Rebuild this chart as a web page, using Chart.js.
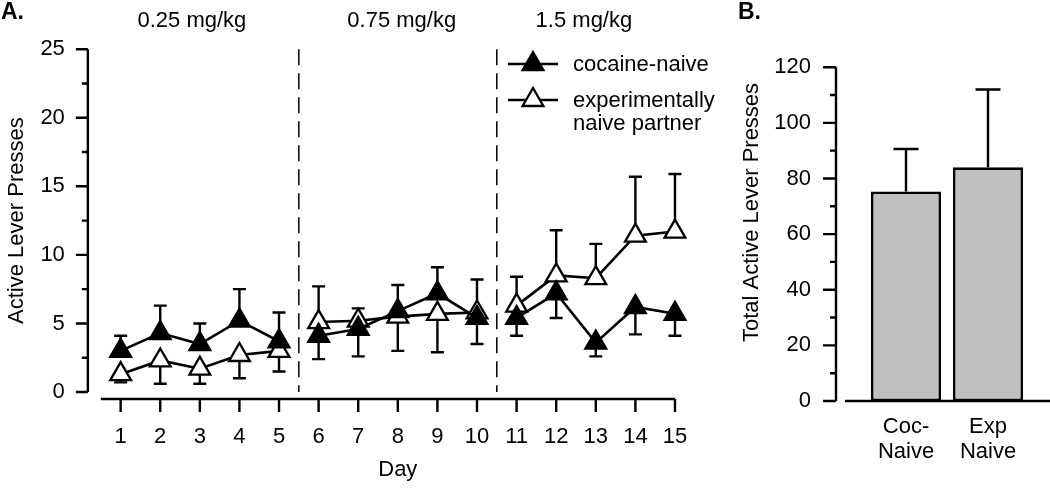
<!DOCTYPE html>
<html>
<head>
<meta charset="utf-8">
<script src="https://cdn.jsdelivr.net/npm/chart.js@4.4.1/dist/chart.umd.min.js"></script>
<style>
  html, body { margin: 0; padding: 0; background: #fff; }
  #wrap { position: relative; width: 1050px; height: 488px; }
  #boxA { position: absolute; left: 0; top: 0; }
  #boxB { position: absolute; left: 720px; top: 0; }
</style>
</head>
<body>
<div id="wrap">
  <div id="boxA"><canvas id="chartA" width="720" height="488"></canvas></div>
  <div id="boxB"><canvas id="chartB" width="330" height="488"></canvas></div>
</div>
<script>
// Panel A data
const days = [1, 2, 3, 4, 5, 6, 7, 8, 9, 10, 11, 12, 13, 14, 15];
const cocaineNaive = [3.0, 4.3, 3.5, 5.2, 3.7, 4.1, 4.6, 5.9, 7.2, 5.4, 5.4, 7.2, 3.6, 6.2, 5.7];
const cocaineNaiveSE = [1.1, 2.0, 1.5, 2.3, 2.1, 1.7, 2.0, 1.9, 1.9, 1.9, 1.3, 1.8, 1.0, 2.0, 1.6];
const partner = [1.3, 2.3, 1.7, 2.7, 3.0, 5.1, 5.2, 5.5, 5.7, 5.8, 6.3, 8.5, 8.3, 11.4, 11.7];
const partnerSE = [0.6, 1.7, 1.1, 1.7, 1.5, 2.6, 0.9, 2.5, 2.8, 2.4, 2.1, 3.3, 2.5, 4.3, 4.2];
// +1 = error bar drawn upward for cocaine-naive (partner goes the other way)
const errorSide = [1, 1, 1, 1, 1, -1, -1, 1, 1, -1, -1, -1, -1, -1, -1];
const doseBreaks = [5.5, 10.5];
const doseLabels = ['0.25 mg/kg', '0.75 mg/kg', '1.5 mg/kg'];
const doseLabelAt = [2.8, 8.1, 12.7];

// Panel B data
const groups = [['Coc-', 'Naive'], ['Exp', 'Naive']];
const totals = [75.3, 84.0];
const totalsSE = [15.3, 28.0];

const FONT = 'Liberation Sans, Arial, sans-serif';
Chart.defaults.font.family = FONT;
Chart.defaults.font.size = 22;
Chart.defaults.color = '#000';

function tri(ctx, x, y, r, fill) {
  ctx.beginPath();
  for (let i = 0; i < 3; i++) {
    const a = i * 2 * Math.PI / 3;
    const px = x + Math.sin(a) * r, py = y - Math.cos(a) * r;
    if (i === 0) ctx.moveTo(px, py); else ctx.lineTo(px, py);
  }
  ctx.closePath();
  ctx.fillStyle = fill;
  ctx.fill();
  ctx.stroke();
}

function errorBars(ctx, x, y, means, se, side) {
  means.forEach(function (m, i) {
    const px = x.getPixelForValue(days[i]);
    const p0 = y.getPixelForValue(m);
    const p1 = y.getPixelForValue(m + side[i] * se[i]);
    ctx.beginPath();
    ctx.moveTo(px, p0); ctx.lineTo(px, p1);
    ctx.moveTo(px - 6.5, p1); ctx.lineTo(px + 6.5, p1);
    ctx.stroke();
  });
}

const panelA = {
  id: 'panelA',
  beforeDatasetsDraw(chart) {
    const { ctx, scales: { x, y } } = chart;
    ctx.save();
    ctx.strokeStyle = '#000';
    // dose separators
    ctx.lineWidth = 1.5;
    ctx.setLineDash([16, 8]);
    doseBreaks.forEach(function (b) {
      const px = x.getPixelForValue(b);
      ctx.beginPath();
      ctx.moveTo(px, y.getPixelForValue(25));
      ctx.lineTo(px, y.getPixelForValue(0));
      ctx.stroke();
    });
    ctx.setLineDash([]);
    // error bars sit behind the triangles
    ctx.lineWidth = 2.4;
    errorBars(ctx, x, y, cocaineNaive, cocaineNaiveSE, errorSide);
    errorBars(ctx, x, y, partner, partnerSE, errorSide.map(s => -s));
    ctx.restore();
  },
  afterDraw(chart) {
    const { ctx, scales: { x, y } } = chart;
    ctx.save();
    ctx.strokeStyle = '#000';
    ctx.lineWidth = 2.4;
    // y axis, detached from x axis
    const ax = chart.chartArea.left - 13;
    ctx.beginPath();
    ctx.moveTo(ax, y.getPixelForValue(0));
    ctx.lineTo(ax, y.getPixelForValue(25));
    for (let v = 0; v <= 25; v += 2.5) {
      const py = y.getPixelForValue(v);
      ctx.moveTo(ax - (v % 5 === 0 ? 12 : 6), py);
      ctx.lineTo(ax, py);
    }
    // x axis
    const ay = chart.chartArea.bottom + 7;
    ctx.moveTo(x.getPixelForValue(0.5), ay);
    ctx.lineTo(x.getPixelForValue(15), ay);
    days.forEach(function (d) {
      const px = x.getPixelForValue(d);
      ctx.moveTo(px, ay);
      ctx.lineTo(px, ay + 13);
    });
    ctx.stroke();

    // dose labels
    ctx.fillStyle = '#000';
    ctx.font = '22px ' + FONT;
    ctx.textAlign = 'center';
    ctx.textBaseline = 'middle';
    doseLabels.forEach(function (t, i) {
      ctx.fillText(t, x.getPixelForValue(doseLabelAt[i]), 21);
    });

    // panel letter
    ctx.font = 'bold 23px ' + FONT;
    ctx.textAlign = 'left';
    ctx.fillText('A.', 1, 13);

    // legend
    ctx.font = '22px ' + FONT;
    const rows = [
      { y: 64, fill: '#000', text: ['cocaine-naive'] },
      { y: 100, fill: '#fff', text: ['experimentally', 'naive partner'] }
    ];
    rows.forEach(function (r) {
      ctx.lineWidth = 2.6;
      ctx.beginPath();
      ctx.moveTo(508, r.y); ctx.lineTo(558, r.y);
      ctx.stroke();
      ctx.lineWidth = 2.3;
      tri(ctx, 533, r.y, 12, r.fill);
      ctx.fillStyle = '#000';
      r.text.forEach(function (t, k) {
        ctx.fillText(t, 573, r.y + 1 + k * 23);
      });
    });
    ctx.restore();
  }
};

const hiddenBreak = ctx => (ctx.p0.parsed.x === 5 || ctx.p0.parsed.x === 10) ? 'rgba(0,0,0,0)' : '#000';

new Chart(document.getElementById('chartA'), {
  type: 'line',
  data: {
    labels: days,
    datasets: [
      {
        label: 'cocaine-naive',
        data: days.map((d, i) => ({ x: d, y: cocaineNaive[i] })),
        borderColor: '#000',
        borderWidth: 2.6,
        pointStyle: 'triangle',
        pointRadius: 12,
        pointBorderWidth: 2.3,
        pointBackgroundColor: '#000',
        pointBorderColor: '#000',
        segment: { borderColor: hiddenBreak }
      },
      {
        label: 'experimentally naive partner',
        data: days.map((d, i) => ({ x: d, y: partner[i] })),
        borderColor: '#000',
        borderWidth: 2.6,
        pointStyle: 'triangle',
        pointRadius: 12,
        pointBorderWidth: 2.3,
        pointBackgroundColor: '#fff',
        pointBorderColor: '#000',
        segment: { borderColor: hiddenBreak }
      }
    ]
  },
  options: {
    responsive: false,
    animation: false,
    layout: { padding: { left: 0, right: 23.6, top: 34, bottom: 0 } },
    plugins: { legend: { display: false }, tooltip: { enabled: false } },
    scales: {
      x: {
        type: 'linear',
        min: 0.5,
        max: 15.5,
        afterBuildTicks: s => { s.ticks = days.map(d => ({ value: d })); },
        afterFit: s => { s.height = 96; },
        grid: { display: false, drawTicks: false },
        border: { display: false },
        ticks: { padding: 32, maxRotation: 0, autoSkip: false },
        title: { display: true, text: 'Day', padding: { top: 0, bottom: 5 } }
      },
      y: {
        min: 0,
        max: 25,
        afterFit: s => { s.width = 100.85; },
        grid: { display: false, drawTicks: false },
        border: { display: false },
        ticks: { stepSize: 5, padding: 36 },
        title: { display: true, text: 'Active Lever Presses', padding: { top: 3.5, bottom: 0 } }
      }
    }
  },
  plugins: [panelA]
});

const panelB = {
  id: 'panelB',
  beforeDatasetsDraw(chart) {
    const { ctx, scales: { x, y } } = chart;
    ctx.save();
    ctx.strokeStyle = '#000';
    ctx.lineWidth = 2.4;
    totals.forEach(function (v, i) {
      const px = x.getPixelForValue(i);
      const p0 = y.getPixelForValue(v);
      const p1 = y.getPixelForValue(v + totalsSE[i]);
      ctx.beginPath();
      ctx.moveTo(px, p0); ctx.lineTo(px, p1);
      ctx.moveTo(px - 12.5, p1); ctx.lineTo(px + 12.5, p1);
      ctx.stroke();
    });
    ctx.restore();
  },
  afterDraw(chart) {
    const { ctx, scales: { y } } = chart;
    ctx.save();
    ctx.strokeStyle = '#000';
    ctx.lineWidth = 2.4;
    const ax = chart.chartArea.left - 29;
    const ay = y.getPixelForValue(0);
    ctx.beginPath();
    ctx.moveTo(ax, ay);
    ctx.lineTo(ax, y.getPixelForValue(120));
    for (let v = 0; v <= 120; v += 10) {
      const py = y.getPixelForValue(v);
      ctx.moveTo(ax - (v % 20 === 0 ? 13 : 6), py);
      ctx.lineTo(ax, py);
    }
    ctx.moveTo(ax + 9, ay);
    ctx.lineTo(chart.width, ay);
    ctx.stroke();

    ctx.fillStyle = '#000';
    ctx.font = 'bold 23px ' + FONT;
    ctx.textAlign = 'left';
    ctx.textBaseline = 'middle';
    ctx.fillText('B.', 18, 13);

    ctx.font = '22px ' + FONT;
    ctx.textAlign = 'center';
    ctx.translate(32, 212.5);
    ctx.rotate(-Math.PI / 2);
    ctx.fillText('Total Active Lever Presses', 0, 0);
    ctx.restore();
  }
};

new Chart(document.getElementById('chartB'), {
  type: 'bar',
  data: {
    labels: groups,
    datasets: [{
      data: totals,
      backgroundColor: '#c0c0c0',
      borderColor: '#000',
      borderWidth: 2.6,
      borderSkipped: false,
      barPercentage: 0.854,
      categoryPercentage: 1
    }]
  },
  options: {
    responsive: false,
    animation: false,
    layout: { padding: { left: 0, right: 21, top: 43.3, bottom: 0 } },
    plugins: { legend: { display: false }, tooltip: { enabled: false } },
    scales: {
      x: {
        afterFit: s => { s.height = 87; },
        grid: { display: false, drawTicks: false },
        border: { display: false },
        ticks: { padding: 13, font: { lineHeight: 1.15 } }
      },
      y: {
        min: 0,
        max: 120,
        afterFit: s => { s.width = 145; },
        grid: { display: false, drawTicks: false },
        border: { display: false },
        ticks: { stepSize: 20, padding: 54 }
      }
    }
  },
  plugins: [panelB]
});
</script>
</body>
</html>
